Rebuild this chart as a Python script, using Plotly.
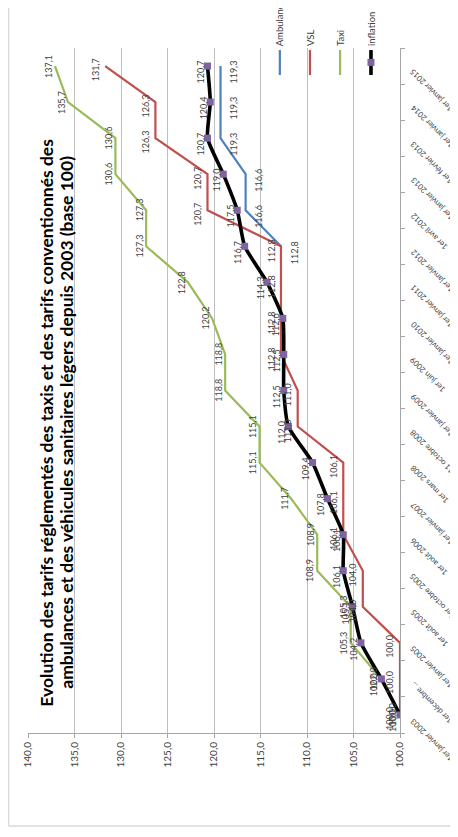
import plotly.graph_objects as go

# Chart is drawn turned a quarter turn, like the reference: values run right-to-left,
# dates run bottom-to-top.
dates = [
    "1er janvier 2003", "1er décembre ...", "1er janvier 2005", "1er août 2005",
    "1er octobre 2005", "1er août 2006", "1er janvier 2007", "1er mars 2008",
    "11 octobre 2008", "1er janvier 2009", "1er juin 2009", "1er janvier 2010",
    "1er janvier 2011", "1er janvier 2012", "1er avril 2012", "1er janvier 2013",
    "1er février 2013", "1er janvier 2014", "1er janvier 2015",
]
ambulance = [None] * 13 + [112.8, 116.6, 116.6, 119.3, 119.3, 119.3]
vsl = [100.0, 100.0, 100.0, 104.0, 104.0, 106.1, 106.1, 106.1, 111.0, 111.0,
       112.8, 112.8, 112.8, 112.8, 120.7, 120.7, 126.3, 126.3, 131.7]
taxi = [100.0, 102.0, 105.3, 105.3, 108.9, 108.9, 111.7, 115.1, 115.1, 118.8,
        118.8, 120.2, 122.8, 127.3, 127.3, 130.6, 130.6, 135.7, 137.1]
inflation = [100.0, 102.0, 104.2, 105.1, 106.1, 106.1, 107.8, 109.4, 112.0, 112.5,
             112.5, 112.6, 114.3, 116.7, 117.5, 119.0, 120.7, 120.4, 120.7]
value_ticks = [140, 135, 130, 125, 120, 115, 110, 105, 100]

title_lines = [
    "Evolution des tarifs réglementés des taxis et des tarifs conventionnés des",
    "ambulances et des véhicules sanitaires légers depuis 2003 (base 100)",
]

BLUE = "#4f81bd"
RED = "#c0504d"
GREEN = "#9bbb59"
PURPLE = "#8064a2"
TXT = "#404040"
FONT = "Lato"

fig = go.Figure()

series = [
    ("Ambulance", ambulance, BLUE, 2.2, 13, -6),
    ("VSL", vsl, RED, 2.2, -10, -4),
    ("Taxi", taxi, GREEN, 2.2, -7, 0),
]
for name, vals, color, width, _, _ in series:
    fig.add_trace(go.Scatter(
        x=vals, y=dates, name=name, mode="lines",
        line={"color": color, "width": width}, connectgaps=False,
    ))
fig.add_trace(go.Scatter(
    x=inflation, y=dates, name="inflation", mode="lines+markers",
    line={"color": "black", "width": 3.6, "shape": "spline", "smoothing": 0.5},
    marker={"color": PURPLE, "size": 7, "symbol": "square"},
))

annotations = []
for name, vals, color, _, dx, dy in series + [("inflation", inflation, None, 0, -7, -6)]:
    for d, v in zip(dates, vals):
        if v is None:
            continue
        annotations.append(dict(
            x=v, y=d, xref="x", yref="y", text=f"{v:.1f}".replace(".", ","),
            showarrow=False, textangle=-90, xshift=dx, yshift=dy,
            font={"family": FONT, "size": 9, "color": TXT},
        ))

# date labels, upside-down at 45 degrees, hanging off the right-hand axis
for d in dates:
    annotations.append(dict(
        x=1.0, y=d, xref="paper", yref="y", text=d, showarrow=False,
        textangle=-135, xanchor="left", yanchor="top", xshift=5, yshift=2,
        font={"family": FONT, "size": 7.8, "color": TXT},
    ))

# title inside the plot, reading upwards, one annotation per line
for line, px in zip(title_lines, [0.051, 0.105]):
    annotations.append(dict(
        x=px, y=0.453, xref="paper", yref="paper", text=f"<b>{line}</b>",
        showarrow=False, textangle=-90, xanchor="center", yanchor="middle",
        font={"family": FONT, "size": 17.5, "color": "black"},
    ))

# hand-made legend, turned like the rest
legend_items = [("Ambulance", BLUE, 0.677), ("VSL", RED, 0.758),
                ("Taxi", GREEN, 0.839), ("inflation", "black", 0.922)]
shapes = []
for label, color, px in legend_items:
    annotations.append(dict(
        x=px, y=1.0, xref="paper", yref="paper", text=label, showarrow=False,
        textangle=-90, xanchor="center", yanchor="bottom",
        font={"family": FONT, "size": 9.5, "color": TXT},
    ))
    shapes.append(dict(
        type="line", xref="paper", yref="paper", x0=px, x1=px, y0=0.997, y1=0.9606,
        line={"color": color, "width": 3.6 if label == "inflation" else 2.2},
    ))
shapes.append(dict(
    type="rect", xref="paper", yref="paper", xsizemode="pixel", ysizemode="pixel",
    xanchor=0.922, yanchor=0.979, x0=-3.5, x1=3.5, y0=-3.5, y1=3.5,
    fillcolor=PURPLE, line={"width": 0},
))

# outer chart frame (left and bottom edges are the only visible ones)
shapes.append(dict(type="line", xref="paper", yref="paper", x0=-0.0524, x1=-0.0524,
                   y0=-0.1358, y1=1.2, line={"color": "#d9d9d9", "width": 1.5}))
shapes.append(dict(type="line", xref="paper", yref="paper", x0=-0.0524, x1=1.3,
                   y0=-0.1358, y1=-0.1358, line={"color": "#d9d9d9", "width": 1.5}))

# the page body keeps its default 8px margin, so the figure is made 8px smaller
fig.update_layout(
    width=450, height=829, autosize=False,
    margin=dict(l=20, r=58, t=40, b=104),
    paper_bgcolor="white", plot_bgcolor="white",
    showlegend=False, separators=", ",
    annotations=annotations, shapes=shapes,
    font={"family": FONT, "color": TXT},
)
fig.update_xaxes(
    range=[140, 100], tickvals=value_ticks, tickformat=".1f", tickangle=-90,
    showgrid=True, gridcolor="#bfbfbf", gridwidth=1, zeroline=False,
    showline=True, linecolor="#a6a6a6", ticks="outside", ticklen=4, tickcolor="#a6a6a6",
    tickfont={"family": FONT, "size": 10, "color": TXT},
)
fig.update_yaxes(
    type="category", categoryorder="array", categoryarray=dates,
    range=[-0.5, len(dates) - 0.5], side="right", showticklabels=False,
    showgrid=False, zeroline=False, showline=True, linecolor="#a6a6a6",
    ticks="outside", ticklen=4, tickcolor="#a6a6a6", tickson="boundaries",
)

fig.write_html("out.html")
